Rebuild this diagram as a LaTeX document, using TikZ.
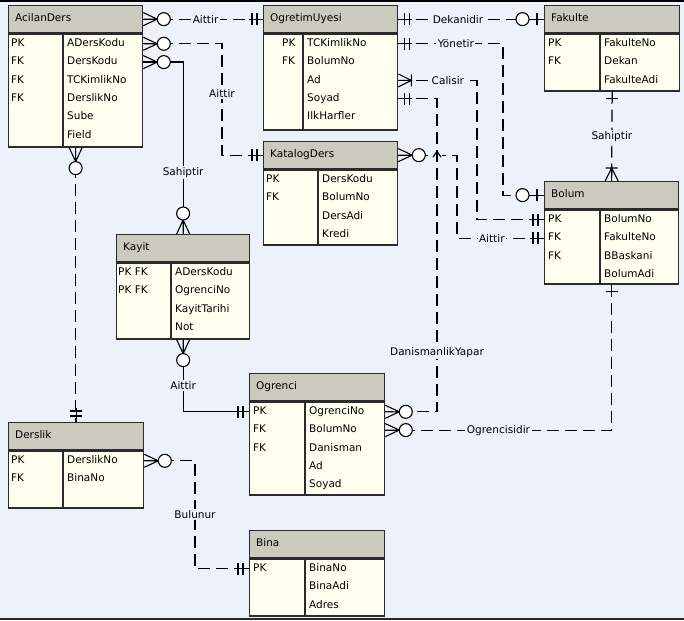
\documentclass[tikz,border=0pt]{standalone}
\usepackage{fontspec}
\setmainfont{DejaVu Sans}

\definecolor{canvas}{HTML}{EDF1F9}
\definecolor{headfill}{HTML}{CACABE}
\definecolor{bodyfill}{HTML}{FFFFF0}
\definecolor{framecol}{HTML}{2B2B2B}

\tikzset{
  erhead/.style={draw=framecol, line width=1.3pt, fill=headfill, inner sep=0pt, minimum height=27pt},
  erbody/.style={draw=framecol, line width=1.3pt, fill=bodyfill, inner sep=0pt},
  erline/.style={draw=framecol, line width=1.3pt},
  ertext/.style={inner sep=0pt, anchor=west, text height=8pt, text depth=2.5pt, font=\fontsize{10.5}{12}\selectfont},
  conn/.style={line width=1.2pt, black},
  dashedconn/.style={conn, dash pattern=on 12pt off 6pt},
  notat/.style={line width=1.1pt, black},
  lbl/.style={fill=canvas, inner sep=1.5pt, text=black, font=\fontsize{10.5}{12}\selectfont},
}

% table: name, top left, width, key column, key offset, body height, title, key/field list
\newcommand\erbox[8]{%
  \node[erhead, minimum width=#3pt, anchor=north west] (#1) at #2 {};
  \node[ertext] (#1-t) at ([xshift=7pt]#1.west) {#7};
  \node[erbody, minimum width=#3pt, minimum height=#6pt, anchor=north west] (#1-b) at (#1.south west) {};
  \draw[erline] ([xshift=#4pt]#1-b.north west) -- ([xshift=#4pt]#1-b.south west);
  \foreach \k/\f [count=\i] in {#8}{%
    \node[ertext] (#1-k\i) at ([xshift=#5pt, yshift={-(10.5+18.3*(\i-1))*1pt}]#1-b.north west) {\k};
    \node[ertext] (#1-f\i) at ([xshift={(#4+4)*1pt}, yshift={-(10.5+18.3*(\i-1))*1pt}]#1-b.north west) {\f};
  }%
}

% end marks, drawn outward from the table edge
\newcommand\nCrowO[2]{\begin{scope}[shift={(#1)}, rotate=#2]
  \draw[notat] (0,6.5) -- (14,0) -- (0,-6.5) (0,0) -- (14,0);
  \draw[notat, fill=white] (20.5,0) circle (6.5pt);
\end{scope}}
\newcommand\nCrowBar[2]{\begin{scope}[shift={(#1)}, rotate=#2]
  \draw[notat] (0,6.5) -- (13,0) -- (0,-6.5) (0,0) -- (13,0) (13,6) -- (13,-6);
\end{scope}}
\newcommand\nOne[2]{\begin{scope}[shift={(#1)}, rotate=#2]
  \draw[notat] (0,0) -- (14,0) (6,6) -- (6,-6) (11,6) -- (11,-6);
\end{scope}}
\newcommand\nBar[2]{\begin{scope}[shift={(#1)}, rotate=#2]
  \draw[notat] (0,0) -- (10,0) (7,6) -- (7,-6);
\end{scope}}
\newcommand\nZeroOne[2]{\begin{scope}[shift={(#1)}, rotate=#2]
  \draw[notat] (0,0) -- (15,0) (7,6) -- (7,-6);
  \draw[notat, fill=white] (21.5,0) circle (6.5pt);
\end{scope}}

\begin{document}
\begin{tikzpicture}[x=1pt, y=-1pt]
\useasboundingbox (0,0) rectangle (684,620);
\fill[canvas] (0,0) rectangle (684,620);
\draw[black, line width=2pt] (0,1) -- (684,1);
\draw[framecol, line width=2pt] (0,619) -- (684,619);

% tables
\erbox{acilan}{(8,5)}{134}{55}{3}{113}{AcilanDers}{PK/ADersKodu, FK/DersKodu, FK/TCKimlikNo, FK/DerslikNo, /Sube, /Field}
\erbox{ogretim}{(263,5)}{134}{40}{19}{96}{OgretimUyesi}{PK/TCKimlikNo, FK/BolumNo, /Ad, /Soyad, /IlkHarfler}
\erbox{fakulte}{(544,5)}{135}{56}{4}{57}{Fakulte}{PK/FakulteNo, FK/Dekan, /FakulteAdi}
\erbox{katalog}{(263,141)}{134}{55}{3}{75}{KatalogDers}{PK/DersKodu, FK/BolumNo, /DersAdi, /Kredi}
\erbox{bolum}{(544,181)}{134}{56}{4}{74}{Bolum}{PK/BolumNo, FK/FakulteNo, FK/BBaskani, /BolumAdi}
\erbox{kayit}{(116,234)}{133}{55}{2}{76}{Kayit}{PK FK/ADersKodu, PK FK/OgrenciNo, /KayitTarihi, /Not}
\erbox{ogrenci}{(249,373)}{135}{56}{4}{93}{Ogrenci}{PK/OgrenciNo, FK/BolumNo, FK/Danisman, /Ad, /Soyad}
\erbox{derslik}{(8,422)}{135}{55}{3}{57}{Derslik}{PK/DerslikNo, FK/BinaNo}
\erbox{bina}{(249,530)}{135}{56}{4}{57}{Bina}{PK/BinaNo, /BinaAdi, /Adres}

% bends
\coordinate (j1) at (222,0);
\coordinate (j2) at (195,0);
\coordinate (j3) at (437,0);
\coordinate (j4) at (457,0);
\coordinate (j5) at (503,0);
\coordinate (j6) at (477,0);

% relations
\draw[dashedconn] (acilan.east) -- node[lbl, pos=0.52] (r1) {Aittir} (ogretim.west);
\draw[dashedconn] (acilan-b.east |- acilan-f1) -- (j1 |- acilan-f1) -- node[lbl, pos=0.45] (r2) {Aittir} (j1 |- katalog.west) -- (katalog.west);
\draw[conn] (acilan-b.east |- acilan-f2) -| node[lbl, pos=0.82] (r3) {Sahiptir} (kayit.north);
\draw[dashedconn] (acilan-b.south) -- (acilan-b.south |- derslik.north);
\draw[conn] (kayit-b.south) |- node[lbl, pos=0.32] (r5) {Aittir} (ogrenci-b.west |- ogrenci-f1);
\draw[dashedconn] (derslik-b.east |- derslik-f1) -- (j2 |- derslik-f1) -- node[lbl] (r6) {Bulunur} (j2 |- bina-f1) -- (bina-b.west |- bina-f1);
\draw[dashedconn] (ogretim-b.east |- ogretim-f4) -- (j3 |- ogretim-f4) -- node[lbl, pos=0.81] (r7) {DanismanlikYapar} (j3 |- ogrenci-f1) -- (ogrenci-b.east |- ogrenci-f1);
\draw[dashedconn] (katalog.east) -- (j4 |- katalog.east) -- (j4 |- bolum-f2) -- node[lbl, pos=0.4] (r8) {Aittir} (bolum-b.west |- bolum-f2);
\draw[dashedconn] (ogretim-b.east |- ogretim-f1) -- node[lbl, pos=0.55] (r9) {Yönetir} (j5 |- ogretim-f1) -- (j5 |- bolum.west) -- (bolum.west);
\draw[dashedconn] (ogretim.east) -- node[lbl, pos=0.41] (r10) {Dekanidir} (fakulte.west);
\draw[dashedconn] (ogretim-b.east |- ogretim-f3) -- node[lbl, pos=0.63] (r11) {Calisir} (j6 |- ogretim-f3) -- (j6 |- bolum-f1) -- (bolum-b.west |- bolum-f1);
\draw[dashedconn] (fakulte-b.south) -- node[lbl] (r12) {Sahiptir} (bolum.north);
\draw[dashedconn] (bolum-b.south) |- node[lbl, pos=0.75] (r13) {Ogrencisidir} (ogrenci-b.east |- ogrenci-f2);

% line jump
\coordinate (hop) at (j3 |- katalog.east);
\fill[canvas] ([xshift=-5pt, yshift=-2pt]hop) rectangle ([xshift=5pt, yshift=2pt]hop);
\draw[notat] ([xshift=-4pt, yshift=-2pt]hop) -- ([yshift=4pt]hop) -- ([xshift=4pt, yshift=-2pt]hop);
\draw[notat] ([yshift=4pt]hop) -- ([yshift=-6pt]hop);

% end marks
\nCrowO{acilan.east}{0}
\nOne{ogretim.west}{180}
\nCrowO{acilan-b.east |- acilan-f1}{0}
\nOne{katalog.west}{180}
\nCrowO{acilan-b.east |- acilan-f2}{0}
\nCrowO{kayit.north}{90}
\nCrowO{acilan-b.south}{-90}
\nOne{derslik.north}{90}
\nCrowO{kayit-b.south}{-90}
\nOne{ogrenci-b.west |- ogrenci-f1}{180}
\nCrowO{derslik-b.east |- derslik-f1}{0}
\nOne{bina-b.west |- bina-f1}{180}
\nOne{ogretim-b.east |- ogretim-f4}{0}
\nCrowO{ogrenci-b.east |- ogrenci-f1}{0}
\nCrowO{katalog.east}{0}
\nOne{bolum-b.west |- bolum-f2}{180}
\nOne{ogretim-b.east |- ogretim-f1}{0}
\nZeroOne{bolum.west}{180}
\nOne{ogretim.east}{0}
\nZeroOne{fakulte.west}{180}
\nCrowBar{ogretim-b.east |- ogretim-f3}{0}
\nOne{bolum-b.west |- bolum-f1}{180}
\nBar{fakulte-b.south}{-90}
\nCrowBar{bolum.north}{90}
\nBar{bolum-b.south}{-90}
\nCrowO{ogrenci-b.east |- ogrenci-f2}{0}
\end{tikzpicture}
\end{document}
